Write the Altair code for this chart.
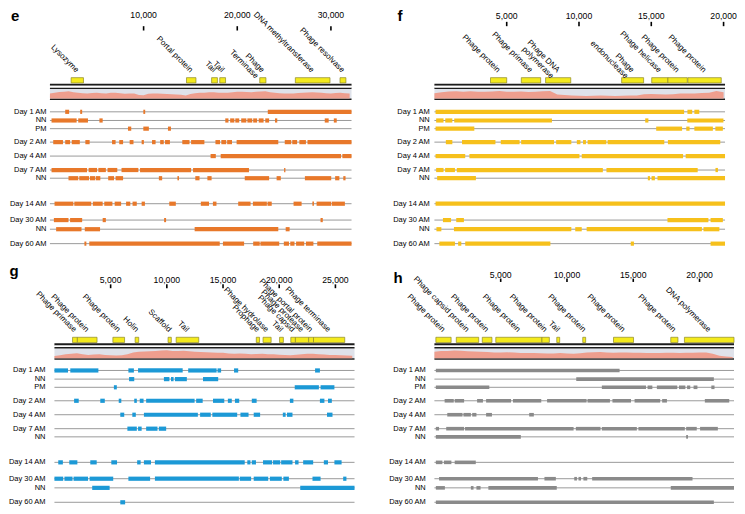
import altair as alt
import pandas as pd

FONT = "Liberation Sans"
PANEL_H = 238
Y_MAX = 247

ROW_LABELS = ["Day 1 AM", "NN", "PM", "Day 2 AM", "Day 4 AM", "Day 7 AM", "NN",
              "Day 14 AM", "Day 30 AM", "NN", "Day 60 AM"]
ROW_Y = [106.5, 115.5, 124, 138, 152.5, 167, 175.5, 202, 219, 228.5, 243.5]

# ---------------- panel e ----------------
E_LEN = 32200
E_TICKS = [10000, 20000, 30000]
E_GENES = ["Lysozyme", "Portal protein", "Tail", "Tail", "Phage\nTerminase",
           "DNA methyltransferase", "Phage resolvase"]
E_GSTART = [2.26, 14.58, 17.26, 18.13, 22.4, 26.2, 30.97]
E_GEND = [3.58, 15.59, 17.88, 18.75, 23.06, 29.9, 31.6]
E_COV = [0.52, 0.6, 0.68, 0.72, 0.76, 0.66, 0.6, 0.55, 0.52, 0.58, 0.6, 0.56, 0.53,
         0.6, 0.62, 0.55, 0.5, 0.54, 0.52, 0.38, 0.34, 0.5, 0.54, 0.53, 0.5, 0.47,
         0.46, 0.43, 0.4, 0.33, 0.48, 0.55, 0.6, 0.62, 0.66, 0.66, 0.62, 0.6, 0.62,
         0.66, 0.72, 0.7, 0.68, 0.66, 0.7, 0.74, 0.76, 0.66, 0.6, 0.56, 0.53, 0.52,
         0.54, 0.57, 0.6, 0.64, 0.67, 0.63, 0.6, 0.56, 0.53, 0.57, 0.6, 0.56, 0.53]
E_SEGS = [
    [(1.63, 2.05), (3.23, 3.44), (9.97, 10.17), (23.26, 32.2)],
    [(0.17, 2.85), (3.02, 4.06), (5.28, 5.63), (18.72, 19.06), (19.24, 19.69),
     (19.79, 20.21), (20.42, 20.97), (21.08, 21.6), (21.7, 22.12), (22.29, 22.81),
     (22.99, 23.4), (24.03, 24.27), (29.34, 29.76), (30.31, 30.62)],
    [(8.33, 8.68), (9.97, 10.56), (12.6, 12.92)],
    [(0.35, 1.39), (1.63, 2.15), (2.33, 3.19), (3.78, 4.24), (6.63, 7.01), (7.4, 7.81),
     (8.51, 8.92), (9.79, 10.03), (10.9, 11.28), (11.77, 12.15), (12.29, 12.81),
     (14.13, 14.9), (15.07, 16.49), (17.67, 18.16), (18.3, 18.82), (18.92, 19.44),
     (19.93, 24.38), (25.07, 25.76), (25.87, 26.39), (26.63, 27.33), (27.5, 32.2)],
    [(17.15, 17.71), (18.23, 31.08), (31.22, 32.2)],
    [(0.17, 3.96), (4.13, 5.03), (5.17, 5.97), (6.15, 7.19), (7.64, 9.44), (9.62, 15.07),
     (15.28, 21.25), (25.0, 25.14)],
    [(1.98, 3.02), (3.13, 4.17), (4.27, 4.83), (4.9, 5.38), (6.22, 6.84), (7.01, 7.81),
     (11.63, 11.98), (13.61, 13.78), (15.52, 15.97), (16.81, 17.26), (20.8, 23.4),
     (24.2, 24.65), (27.22, 30.03), (30.45, 30.9), (31.32, 31.56)],
    [(0.49, 2.5), (2.6, 4.41), (4.58, 5.63), (5.8, 6.67), (6.91, 7.6), (8.13, 8.58),
     (8.82, 9.27), (9.79, 10.14), (12.74, 13.44), (16.11, 16.98), (17.4, 17.78),
     (20.1, 21.42), (21.67, 23.16), (23.23, 23.68), (26.01, 26.87), (28.02, 28.19),
     (28.47, 30.03), (30.1, 31.49)],
    [(0.42, 1.98), (2.15, 3.44), (5.63, 5.97), (12.19, 12.4), (28.89, 29.13)],
    [(0.66, 3.37), (3.72, 5.35), (15.45, 24.38), (25.17, 25.59)],
    [(3.68, 3.89), (4.2, 18.13), (18.47, 20.73), (21.7, 22.4), (22.47, 24.48),
     (24.97, 25.52), (25.66, 26.11), (26.28, 27.15), (27.33, 28.13), (28.54, 32.2)],
]

# ---------------- panel f ----------------
F_LEN = 20100
F_TICKS = [5000, 10000, 15000, 20000]
F_GENES = ["Phage protein", "Phage primase", "Phage DNA\npolymerase", "Phage\nendonuclease",
           "Phage helicase", "Phage protein", "Phage protein"]
F_GSTART = [3.88, 6.01, 7.69, 12.95, 15.03, 16.15, 17.53]
F_GEND = [5.0, 7.35, 9.43, 14.47, 16.15, 17.49, 19.84]
F_COV = [0.55, 0.66, 0.74, 0.76, 0.7, 0.76, 0.72, 0.7, 0.74, 0.8, 0.72, 0.7, 0.74, 0.68,
         0.72, 0.76, 0.8, 0.42, 0.38, 0.33, 0.3, 0.27, 0.3, 0.33, 0.3, 0.27, 0.28, 0.32,
         0.33, 0.45, 0.47, 0.46, 0.43, 0.46, 0.52, 0.54, 0.53, 0.57, 0.6, 0.8, 0.66]
F_SEGS = [
    [(0.08, 17.27), (17.5, 17.83), (17.98, 18.32)],
    [(0.12, 0.63), (0.75, 1.24), (1.37, 8.13), (14.58, 14.8), (17.49, 19.99)],
    [(0.08, 2.76), (15.34, 17.13), (17.42, 17.65), (17.98, 19.26), (19.43, 19.95)],
    [(0.79, 1.24), (1.91, 4.22), (4.59, 5.89), (6.0, 8.27), (8.42, 9.47), (9.85, 10.1),
     (10.28, 10.48), (10.6, 11.89), (11.98, 15.9), (16.15, 19.77)],
    [(0.08, 2.13), (2.42, 10.03), (10.19, 17.2), (17.38, 20.1)],
    [(0.12, 0.63), (0.74, 1.42), (1.55, 11.65), (11.9, 18.21), (19.44, 19.61)],
    [(0.19, 2.87), (14.76, 14.91), (15.02, 15.25), (15.43, 20.1)],
    [(0.08, 20.1)],
    [(0.59, 1.15), (1.51, 2.04), (16.12, 18.95), (19.1, 19.95)],
    [(0.14, 0.48), (1.35, 9.47), (9.74, 10.19), (10.53, 18.5), (18.61, 19.71)],
    [(0.34, 1.42), (1.64, 1.86), (2.13, 8.02), (13.58, 13.8), (19.1, 20.1)],
]

# ---------------- panel g ----------------
G_LEN = 26700
G_TICKS = [5000, 10000, 15000, 20000, 25000]
G_GENES = ["Phage primase", "Phage protein", "Phage protein", "Holin", "Scaffold", "Tail",
           "Prophage", "Phage hydrolase", "Tail", "Phage capsid", "Phage protease",
           "Phage portal protein", "Phage terminase"]
G_GSTART = [1.61, 2.04, 5.2, 7.18, 10.11, 10.83, 17.96, 18.56, 20.03, 21.03, 21.44, 22.62, 23.05]
G_GEND = [2.04, 3.79, 6.24, 7.5, 10.4, 12.84, 18.25, 19.28, 20.37, 21.44, 22.62, 23.05, 25.83]
G_COV = [0.22, 0.3, 0.4, 0.46, 0.52, 0.4, 0.32, 0.38, 0.4, 0.32, 0.3, 0.28, 0.3, 0.42,
         0.6, 0.68, 0.7, 0.72, 0.76, 0.8, 0.84, 0.74, 0.76, 0.78, 0.72, 0.68, 0.64, 0.62,
         0.6, 0.57, 0.56, 0.5, 0.47, 0.5, 0.45, 0.41, 0.44, 0.47, 0.42, 0.4, 0.35, 0.32,
         0.31, 0.35, 0.4, 0.46, 0.45, 0.41, 0.37, 0.34, 0.32, 0.3, 0.28, 0.25]
G_SEGS = [
    [(0, 1.21), (1.41, 3.91), (6.58, 7.07), (7.44, 11.41), (11.9, 14.43), (14.51, 14.83),
     (15.98, 16.35), (23.19, 23.62)],
    [(6.64, 7.1), (9.74, 10.23), (10.37, 10.6), (10.72, 11.78), (13.22, 14.57)],
    [(5.29, 5.55), (21.38, 23.53), (23.68, 24.91)],
    [(1.75, 2.16), (4.08, 4.48), (5.72, 5.95), (7.1, 7.33), (7.59, 7.93), (8.16, 12.47),
     (12.61, 13.19), (14.11, 15.11), (15.43, 15.78), (16.06, 16.44), (17.56, 17.99),
     (20.95, 21.26), (23.62, 24.02), (24.34, 24.68)],
    [(5.86, 6.21), (6.93, 7.24), (7.96, 12.76), (12.96, 13.91), (14.05, 16.26),
     (16.55, 17.27), (17.73, 18.3), (20.32, 20.57), (20.69, 21.18), (24.25, 24.74)],
    [(6.49, 7.33), (7.44, 7.76), (8.16, 9.17), (9.29, 9.94)],
    [],
    [(0.34, 0.75), (1.32, 2.04), (3.19, 3.76), (5.06, 5.57), (7.36, 7.67), (7.96, 8.59),
     (8.94, 16.93), (17.16, 17.44), (17.56, 17.93), (18.56, 19.37), (19.45, 20.09),
     (20.17, 21.18), (21.41, 21.72), (22.13, 23.02), (23.97, 24.34), (24.91, 25.55)],
    [(0, 0.78), (0.89, 1.61), (1.7, 2.99), (3.13, 5.23), (6.58, 8.51), (8.94, 16.41),
     (16.49, 17.5), (17.73, 19.02), (19.17, 20.23), (20.37, 20.86), (22.96, 23.68),
     (25.69, 25.98)],
    [(3.36, 4.91), (21.87, 26.7)],
    [(5.86, 6.29)],
]

# ---------------- panel h ----------------
H_LEN = 22600
H_TICKS = [5000, 10000, 15000, 20000]
H_GENES = ["Phage protein", "Phage capsid protein", "Phage protein", "Phage protein",
           "Phage protein", "Tail", "Phage protein", "Phage protein", "Phage protein",
           "DNA polymerase"]
H_GSTART = [0.11, 1.65, 3.61, 4.63, 8.11, 9.23, 11.19, 13.51, 17.83, 18.86]
H_GEND = [1.26, 3.34, 4.34, 8.11, 8.67, 9.45, 11.41, 15.02, 18.37, 22.6]
H_COV = [0.68, 0.74, 0.76, 0.8, 0.78, 0.72, 0.7, 0.66, 0.64, 0.6, 0.58, 0.62, 0.58, 0.54,
         0.55, 0.53, 0.52, 0.48, 0.5, 0.53, 0.5, 0.47, 0.52, 0.58, 0.62, 0.64, 0.58, 0.56,
         0.58, 0.6, 0.57, 0.56, 0.54, 0.53, 0.55, 0.56, 0.57, 0.55, 0.56, 0.57, 0.58,
         0.59, 0.45, 0.26, 0.18, 0.12]
H_SEGS = [
    [(0.11, 13.97)],
    [(10.7, 21.08)],
    [(0.11, 4.14), (12.63, 15.96), (16.08, 16.44), (16.78, 18.32), (18.45, 18.93),
     (19.06, 19.3), (19.55, 19.84), (20.89, 21.13)],
    [(0.77, 1.46), (1.53, 2.24), (3.22, 3.66), (3.9, 5.78), (5.93, 8.06), (8.5, 11.48),
     (11.55, 13.24), (13.43, 14.83), (15.1, 17.03), (17.18, 17.54), (20.4, 22.24)],
    [(0.97, 2.12), (2.19, 2.75), (2.85, 3.17), (3.9, 4.34), (7.15, 7.5)],
    [(0.11, 0.35), (0.89, 2.24), (2.31, 10.5), (10.67, 12.53), (12.63, 15.27),
     (15.39, 18.89), (18.99, 19.79), (20.04, 21.38)],
    [(0.11, 6.52), (18.99, 19.13)],
    [(0.11, 0.6), (0.72, 1.28), (1.53, 3.12)],
    [(0.35, 7.81), (8.3, 9.16), (10.55, 10.75), (10.87, 11.06), (11.24, 11.53), (11.9, 19.47)],
    [(0.11, 0.79), (2.75, 2.95), (3.17, 3.48), (4.07, 9.23), (17.83, 22.6)],
    [(0.11, 21.08)],
]

COV_STEP = 500


def panel(letter, length, x_start, ticks, genes, gstart, gend, cov, segs, color, width,
          letter_dx, letter_y, label_dx, tick_top, tick_bot, tick_label_y, seg_w, hdr):
    xs = alt.Scale(domain=[x_start, length], nice=False, zero=False)
    ys = alt.Scale(domain=[0, Y_MAX], reverse=True, nice=False, zero=False)

    def X(f):
        return alt.X(f, scale=xs, axis=None)

    def Y(f):
        return alt.Y(f, scale=ys, axis=None)

    rows_df = pd.DataFrame({"label": ROW_LABELS, "y": ROW_Y, "x0": 0, "x1": length})
    seg_df = pd.DataFrame([{"s": a * 1000, "e": b * 1000, "y": ROW_Y[i]}
                           for i, row in enumerate(segs) for a, b in row])
    gene_df = pd.DataFrame({"name": genes,
                            "s": [v * 1000 for v in gstart],
                            "e": [v * 1000 for v in gend]})
    gene_df["mid"] = (gene_df["s"] + gene_df["e"]) / 2
    gene_df["y0"] = 71 + hdr
    gene_df["y1"] = 76.5 + hdr
    gene_df["ly"] = 64.5 + hdr
    band_df = pd.DataFrame({"x0": [0] * 5, "x1": [length] * 5,
                            "y0": [82.8, 77.3, 81.2, 92.7, 79.5],
                            "y1": [92.7, 79.5, 82.8, 94.3, 81.2],
                            "c": ["#dfe2ea", "#1c1c1c", "#1c1c1c", "#1c1c1c", "#ffffff"]})
    band_df["y0"] += hdr
    band_df["y1"] += hdr
    cov_df = pd.DataFrame({"pos": [min(i * COV_STEP, length) for i in range(len(cov))],
                           "top": [92.7 + hdr - v * 9.9 for v in cov]})
    cov_df["base"] = 92.7 + hdr
    tick_df = pd.DataFrame({"t": ticks})
    tick_df["y0"] = tick_top
    tick_df["y1"] = tick_bot
    tick_df["ly"] = tick_label_y
    letter_df = pd.DataFrame({"letter": [letter], "x": [0], "y": [letter_y]})

    rows = alt.Chart(rows_df).mark_rule(color="#9a9a9a", strokeWidth=1).encode(
        x=X("x0:Q"), x2="x1:Q", y=Y("y:Q"))
    row_text = alt.Chart(rows_df).mark_text(align="right", baseline="middle", fontSize=7.5,
                                            font=FONT, color="black", dx=label_dx).encode(
        x=X("x0:Q"), y=Y("y:Q"), text="label:N")
    band = alt.Chart(band_df).mark_rect().encode(
        x=X("x0:Q"), x2="x1:Q", y=Y("y0:Q"), y2="y1:Q",
        color=alt.Color("c:N", scale=None))
    area = alt.Chart(cov_df).mark_area(color="#ee9e8e", opacity=1).encode(
        x=X("pos:Q"), y=Y("top:Q"), y2="base:Q")
    boxes = alt.Chart(gene_df).mark_rect(fill="#f4ea1c", stroke="#8d8828", strokeWidth=0.7).encode(
        x=X("s:Q"), x2="e:Q", y=Y("y0:Q"), y2="y1:Q")
    labels = alt.Chart(gene_df).mark_text(angle=45, align="right", baseline="middle",
                                          fontSize=8, font=FONT, color="black",
                                          lineBreak="\n", lineHeight=8.5).encode(
        x=X("mid:Q"), y=Y("ly:Q"), text="name:N")
    segments = alt.Chart(seg_df).mark_rule(color=color, strokeWidth=seg_w, strokeCap="butt").encode(
        x=X("s:Q"), x2="e:Q", y=Y("y:Q"))
    tick_marks = alt.Chart(tick_df).mark_rule(color="black", strokeWidth=1.6).encode(
        x=X("t:Q"), y=Y("y0:Q"), y2="y1:Q")
    tick_text = alt.Chart(tick_df).mark_text(align="center", baseline="alphabetic", fontSize=8.7,
                                             font=FONT, color="black").encode(
        x=X("t:Q"), y=Y("ly:Q"), text=alt.Text("t:Q", format=",d"))
    letter_mark = alt.Chart(letter_df).mark_text(align="left", baseline="alphabetic", fontSize=15,
                                                 fontWeight="bold", font=FONT, color="black",
                                                 dx=letter_dx).encode(
        x=X("x:Q"), y=Y("y:Q"), text="letter:N")

    return alt.layer(rows, band, area, boxes, labels, segments, row_text, tick_marks,
                     tick_text, letter_mark).properties(width=width, height=PANEL_H)


pe = panel("e", E_LEN, 0, E_TICKS, E_GENES, E_GSTART, E_GEND, E_COV, E_SEGS, "#e8782a",
           302, -39, 11.7, -3.5, 17.5, 22, 9, 4.2, 0)
pf = panel("f", F_LEN, 0, F_TICKS, F_GENES, F_GSTART, F_GEND, F_COV, F_SEGS, "#f6c01b",
           291, -37, 11.7, -4.7, 13, 17.5, 10, 4.2, 0)
pg = panel("g", G_LEN, -400, G_TICKS, G_GENES, G_GSTART, G_GEND, G_COV, G_SEGS, "#1c99d6",
           305, -45, 8.5, -9, 17, 21, 16, 4.2, 1)
ph = panel("h", H_LEN, 0, H_TICKS, H_GENES, H_GSTART, H_GEND, H_COV, H_SEGS, "#8a8a8a",
           300, -41, 16, -8.7, 11, 14.5, 10.7, 3.6, 1)

chart = alt.concat(
    pe, pf, pg, ph, columns=2,
    spacing={"row": 21, "column": 80},
    bounds="flush",
    align={"row": "all", "column": "none"},
).properties(
    padding={"left": 0, "top": 0, "right": 0, "bottom": 0},
    background="white",
).configure_view(stroke=None)

chart.save("out.html", embed_options={"renderer": "svg", "actions": False})
